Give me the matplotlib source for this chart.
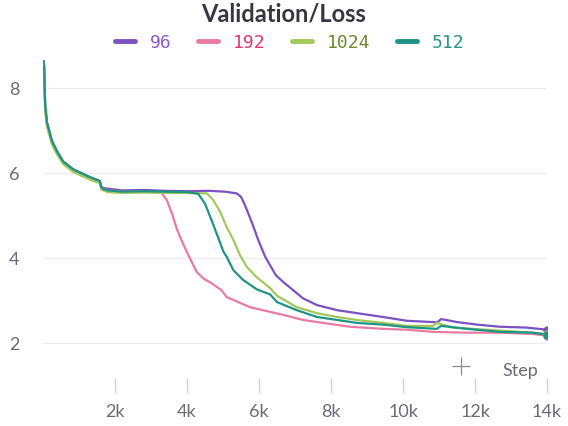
import matplotlib
matplotlib.use("Agg")
import matplotlib.pyplot as plt
from matplotlib.lines import Line2D

# steps and smoothed loss values
steps_96 = [0, 30, 60, 110, 250, 390, 560, 830, 1030, 1310, 1580, 1620, 1680, 1800, 2200, 2800,
            3400, 4000, 4600, 5060, 5380, 5500, 5610, 5800, 5980, 6170, 6470, 6720, 6950, 7220,
            7610, 8170, 8720, 9440, 10110, 10830, 10950, 11060, 11500, 12060, 12690, 13440, 14000]
loss_96 = [8.7, 8.55, 7.62, 7.2, 6.76, 6.52, 6.28, 6.1, 6.02, 5.91, 5.82, 5.68, 5.66, 5.64, 5.6, 5.61,
           5.59, 5.58, 5.59, 5.57, 5.53, 5.45, 5.25, 4.85, 4.43, 4.04, 3.6, 3.41, 3.25, 3.06,
           2.9, 2.78, 2.71, 2.62, 2.53, 2.5, 2.49, 2.57, 2.5, 2.44, 2.39, 2.37, 2.32]

steps_192 = [0, 30, 60, 110, 250, 390, 560, 830, 1030, 1310, 1580, 1620, 1680, 1800, 2200, 2800,
             3200, 3300, 3440, 3580, 3710, 3850, 3990, 4130, 4270, 4450, 4690, 4960, 5100, 5750,
             6110, 6670, 7220, 7780, 8530, 9440, 10110, 10830, 11780, 12690, 13610, 14000]
loss_192 = [8.7, 8.5, 7.55, 7.15, 6.72, 6.48, 6.25, 6.07, 5.99, 5.88, 5.8, 5.66, 5.64, 5.6, 5.57, 5.57,
            5.56, 5.53, 5.37, 5.06, 4.71, 4.42, 4.16, 3.92, 3.68, 3.53, 3.41, 3.25, 3.09, 2.85,
            2.78, 2.67, 2.55, 2.48, 2.39, 2.34, 2.32, 2.27, 2.25, 2.25, 2.22, 2.18]

steps_1024 = [0, 30, 60, 110, 250, 390, 560, 830, 1030, 1310, 1580, 1620, 1680, 1800, 2200, 2800,
              3400, 4000, 4550, 4730, 4920, 5100, 5290, 5470, 5660, 5940, 6310, 6500, 7050, 7610,
              8170, 8720, 9440, 10110, 10830, 10940, 11390, 12310, 13250, 14000]
loss_1024 = [8.7, 8.5, 7.5, 7.1, 6.68, 6.45, 6.22, 6.04, 5.96, 5.85, 5.77, 5.62, 5.6, 5.56, 5.54, 5.55,
             5.54, 5.54, 5.53, 5.37, 5.1, 4.74, 4.43, 4.08, 3.8, 3.55, 3.3, 3.12, 2.85, 2.71,
             2.62, 2.55, 2.48, 2.41, 2.41, 2.48, 2.37, 2.32, 2.27, 2.22]

steps_512 = [0, 30, 60, 110, 250, 390, 560, 830, 1030, 1310, 1580, 1620, 1680, 1800, 2200, 2800,
             3400, 4000, 4310, 4500, 4690, 4870, 5010, 5100, 5290, 5560, 5940, 6310, 6500, 7050,
             7610, 8170, 8720, 9440, 10110, 10940, 11060, 11780, 12690, 13610, 14000]
loss_512 = [8.7, 8.55, 7.62, 7.2, 6.76, 6.52, 6.28, 6.1, 6.02, 5.91, 5.82, 5.68, 5.63, 5.6, 5.57, 5.58,
            5.57, 5.56, 5.52, 5.29, 4.88, 4.48, 4.16, 4.04, 3.72, 3.49, 3.27, 3.15, 2.97, 2.78,
            2.62, 2.55, 2.48, 2.44, 2.38, 2.34, 2.41, 2.34, 2.27, 2.25, 2.2]

series = [
    ("96", steps_96, loss_96, "#7b52c1", "#8a5cc9"),
    ("192", steps_192, loss_192, "#e97ba0", "#e0366f"),
    ("1024", steps_1024, loss_1024, "#a3c95b", "#6f8a2a"),
    ("512", steps_512, loss_512, "#1f9486", "#2a9488"),
]

xticks = [2000, 4000, 6000, 8000, 10000, 12000, 14000]
xtick_labels = ["2k", "4k", "6k", "8k", "10k", "12k", "14k"]
yticks = [2, 4, 6, 8]

plt.rcParams["font.family"] = ["Lato", "DejaVu Sans"]

fig = plt.figure(figsize=(5.68, 4.26), dpi=100)
ax = fig.add_axes([43 / 568, 33 / 426, 504 / 568, 333 / 426])

handles = []
for name, xs, ys, col, txtcol in series:
    ax.plot(xs, ys, color=col, lw=1.6, solid_joinstyle="round", zorder=3)
    ax.plot(xs[-1], ys[-1], "o", color=col, ms=5, zorder=4)
    handles.append(Line2D([], [], color=col, lw=3.5, solid_capstyle="round"))

ax.set_xlim(0, 14000)
ax.set_ylim(0.83, 8.67)
ax.set_yticks(yticks)
ax.set_yticklabels([str(v) for v in yticks])
ax.set_xticks(xticks)
ax.set_xticklabels(xtick_labels)
for s in ax.spines.values():
    s.set_visible(False)
ax.grid(axis="y", color="#ececec", lw=1)
ax.set_axisbelow(True)
ax.tick_params(axis="y", length=0, pad=17, labelsize=13, labelcolor="#6b6b76")
ax.tick_params(axis="x", direction="in", length=11, width=1, color="#d4d4d8",
               pad=8, labelsize=13, labelcolor="#6b6b76")

fig.text(0.5, 0.967, "Validation/Loss", ha="center", va="center",
         fontsize=17, fontweight="bold", color="#363640")

leg = fig.legend(handles, [s[0] for s in series], loc="center", bbox_to_anchor=(0.51, 0.9),
                 ncol=4, frameon=False, handlelength=1.1, handletextpad=0.8, columnspacing=1.5,
                 prop={"family": "DejaVu Sans Mono", "size": 13})
for t, s in zip(leg.get_texts(), series):
    t.set_color(s[4])

fig.text(520 / 568, 1 - 371 / 426, "Step", ha="center", va="center", fontsize=13, color="#6b6b76")
# crosshair cursor left in the screenshot
fig.add_artist(Line2D([461 / 568], [1 - 366 / 426], marker="+", ms=13, mew=0.9,
                      color="#8a8a92", transform=fig.transFigure))

fig.savefig("out.png", dpi=100)
